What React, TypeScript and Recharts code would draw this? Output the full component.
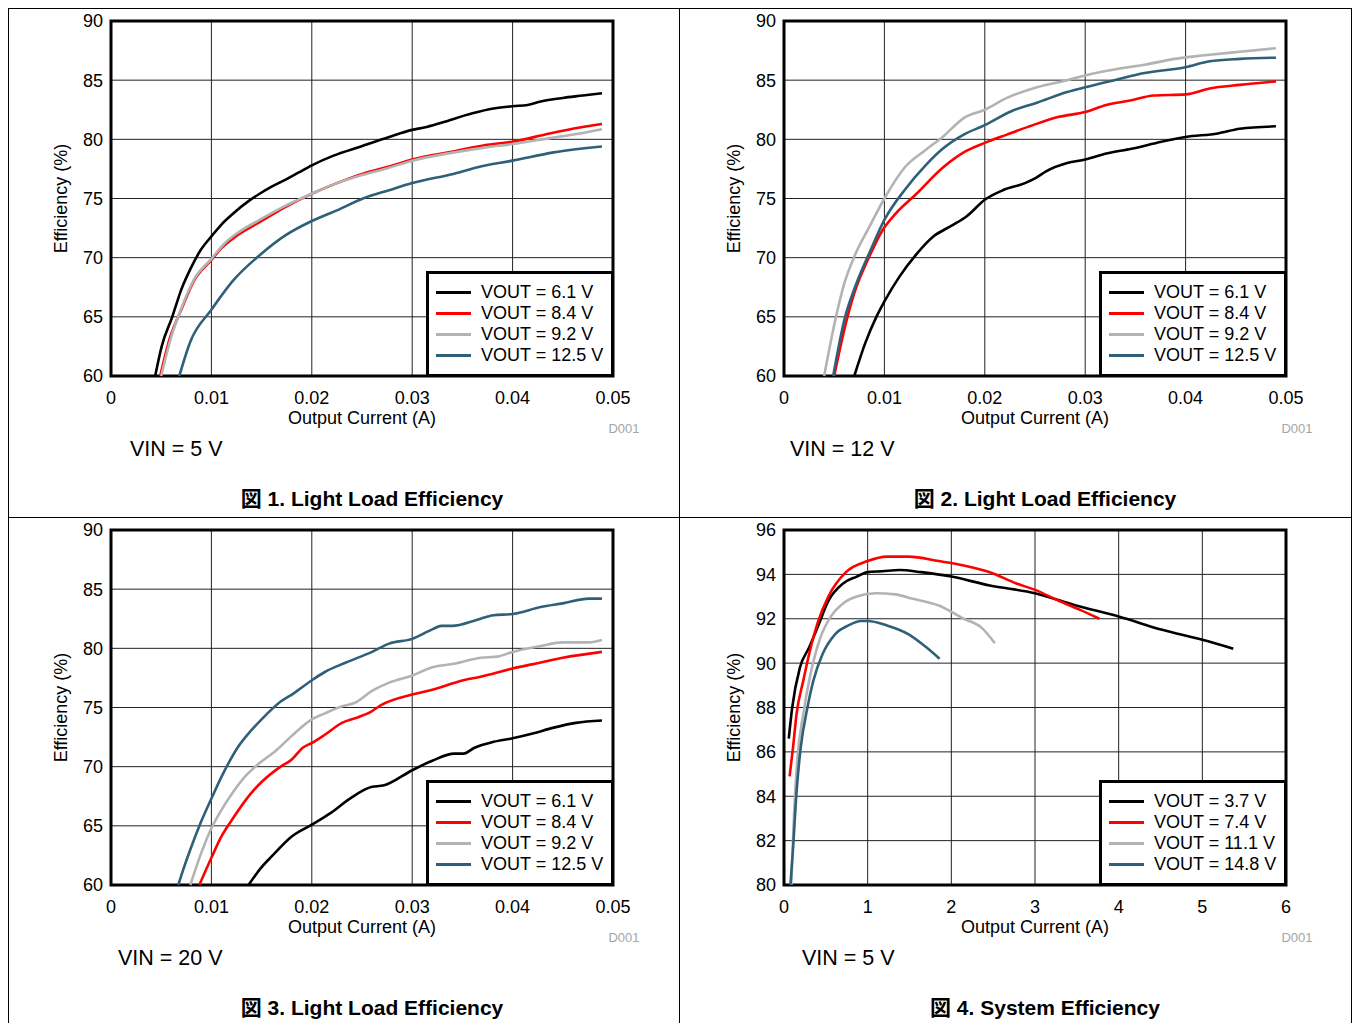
import React from 'react';
import { LineChart, Line, XAxis, YAxis, CartesianGrid, ReferenceArea, Legend } from 'recharts';

// ---------- tick labels ----------
const lightTicksX = [0, 0.01, 0.02, 0.03, 0.04, 0.05];
const lightTicksY = [60, 65, 70, 75, 80, 85, 90];
const sysTicksX = [0, 1, 2, 3, 4, 5, 6];
const sysTicksY = [80, 82, 84, 86, 88, 90, 92, 94, 96];

const lightLabels = ['VOUT = 6.1 V', 'VOUT = 8.4 V', 'VOUT = 9.2 V', 'VOUT = 12.5 V'];
const sysLabels = ['VOUT = 3.7 V', 'VOUT = 7.4 V', 'VOUT = 11.1 V', 'VOUT = 14.8 V'];
const seriesColors = ['#000000', '#ff0000', '#b3b3b3', '#2e6079'];

// ---------- Figure 1: VIN = 5 V (current A, efficiency %) ----------
const f1_v61 = [[0.0044,60],[0.00505,62.5],[0.0061,65],[0.007,67.3],[0.008,69.2],[0.0089,70.6],[0.01,71.8],[0.011,72.8],[0.012,73.6],[0.0139,74.9],[0.0148,75.4],[0.016,76],[0.0174,76.6],[0.0187,77.2],[0.02,77.8],[0.0221,78.6],[0.0249,79.4],[0.0277,80.2],[0.03,80.8],[0.0312,81.0],[0.0329,81.4],[0.036,82.2],[0.0381,82.6],[0.04,82.8],[0.0415,82.9],[0.0428,83.2],[0.045,83.5],[0.047,83.7],[0.0489,83.9]];
const f1_v84 = [[0.0049,60],[0.0059,63.3],[0.007,65.6],[0.0083,68.1],[0.01,69.8],[0.011,70.8],[0.0126,71.9],[0.0148,73],[0.0174,74.3],[0.02,75.4],[0.0225,76.3],[0.0251,77.1],[0.0277,77.7],[0.03,78.3],[0.0342,79],[0.0372,79.5],[0.04,79.8],[0.0437,80.5],[0.0467,81],[0.0489,81.3]];
const f1_v92 = [[0.005,60],[0.006,63.3],[0.007,65.7],[0.0083,68.2],[0.01,69.9],[0.0113,71.2],[0.0128,72.2],[0.0148,73.2],[0.0174,74.4],[0.02,75.4],[0.0225,76.3],[0.0251,77],[0.0277,77.6],[0.03,78.2],[0.0342,78.9],[0.0372,79.3],[0.04,79.6],[0.0437,80.1],[0.0467,80.5],[0.0489,80.85]];
const f1_v125 = [[0.0068,60],[0.0079,62.9],[0.01,65.6],[0.0122,68.1],[0.0148,70.2],[0.0174,71.9],[0.02,73.1],[0.0225,74],[0.0251,75],[0.0277,75.7],[0.03,76.3],[0.0342,77.1],[0.0368,77.7],[0.04,78.2],[0.0441,78.9],[0.0489,79.4]];

// ---------- Figure 2: VIN = 12 V ----------
const f2_v61 = [[0.007,60],[0.0081,62.8],[0.0092,65],[0.01,66.3],[0.0115,68.4],[0.0132,70.3],[0.0149,71.8],[0.0167,72.7],[0.0182,73.5],[0.02,74.9],[0.0218,75.7],[0.024,76.3],[0.025,76.7],[0.0261,77.3],[0.0282,78],[0.03,78.3],[0.0321,78.8],[0.0346,79.2],[0.0376,79.8],[0.04,80.2],[0.0432,80.5],[0.0454,80.9],[0.049,81.1]];
const f2_v84 = [[0.005,60],[0.006,63.9],[0.007,67],[0.0085,70.1],[0.0098,72.3],[0.0111,73.7],[0.0132,75.4],[0.0158,77.6],[0.0179,78.9],[0.02,79.7],[0.0222,80.4],[0.0248,81.2],[0.0274,81.9],[0.03,82.3],[0.0321,82.9],[0.0346,83.3],[0.0368,83.7],[0.04,83.8],[0.0424,84.3],[0.0454,84.6],[0.049,84.9]];
const f2_v92 = [[0.004,60],[0.0051,64.7],[0.006,67.8],[0.007,70.1],[0.0085,72.6],[0.01,75],[0.012,77.6],[0.0141,79.1],[0.0158,80.2],[0.0179,81.8],[0.02,82.5],[0.0222,83.5],[0.0252,84.4],[0.0282,85],[0.03,85.4],[0.0329,85.9],[0.0359,86.3],[0.0389,86.8],[0.0419,87.1],[0.0454,87.4],[0.049,87.7]];
const f2_v125 = [[0.0049,60],[0.006,64.7],[0.0072,67.8],[0.0085,70.4],[0.01,73.2],[0.012,75.7],[0.0141,77.8],[0.0158,79.2],[0.0179,80.4],[0.02,81.2],[0.0227,82.4],[0.0252,83.1],[0.0282,84],[0.03,84.4],[0.0329,85],[0.0359,85.6],[0.04,86.1],[0.0424,86.6],[0.0454,86.8],[0.049,86.9]];

// ---------- Figure 3: VIN = 20 V ----------
const f3_v61 = [[0.0137,60],[0.0148,61.3],[0.0161,62.5],[0.018,64.1],[0.02,65.1],[0.0219,66.1],[0.0238,67.3],[0.026,68.3],[0.0271,68.4],[0.03,69.7],[0.032,70.5],[0.0342,71.1],[0.0351,71.1],[0.0362,71.6],[0.0381,72.1],[0.04,72.4],[0.042,72.8],[0.0441,73.3],[0.0463,73.7],[0.0489,73.9]];
const f3_v84 = [[0.0088,60],[0.01,62.3],[0.011,64.1],[0.0122,65.7],[0.0139,67.7],[0.015,68.7],[0.0169,70],[0.018,70.6],[0.0191,71.6],[0.02,72],[0.0213,72.7],[0.023,73.7],[0.0247,74.2],[0.026,74.7],[0.0269,75.2],[0.03,76.1],[0.032,76.5],[0.0351,77.3],[0.0368,77.6],[0.04,78.3],[0.0428,78.8],[0.045,79.2],[0.0489,79.7]];
const f3_v92 = [[0.0079,60],[0.0089,62.5],[0.01,64.8],[0.0109,66.2],[0.0122,67.9],[0.0135,69.3],[0.0148,70.3],[0.0165,71.4],[0.018,72.6],[0.02,74],[0.0213,74.5],[0.023,75.1],[0.0243,75.4],[0.026,76.4],[0.0277,77.1],[0.03,77.7],[0.032,78.4],[0.0342,78.7],[0.0368,79.2],[0.0385,79.3],[0.04,79.7],[0.0428,80.2],[0.045,80.5],[0.0476,80.5],[0.0489,80.7]];
const f3_v125 = [[0.0067,60],[0.007,60.8],[0.0079,63],[0.0089,65.2],[0.01,67.3],[0.0111,69.3],[0.0126,71.6],[0.0139,73],[0.015,74],[0.0169,75.5],[0.0182,76.2],[0.02,77.3],[0.0213,78],[0.0234,78.8],[0.026,79.7],[0.0277,80.4],[0.03,80.8],[0.032,81.6],[0.0329,81.9],[0.034,81.9],[0.0364,82.4],[0.0381,82.8],[0.04,82.9],[0.0428,83.5],[0.045,83.8],[0.0476,84.2],[0.0489,84.2]];

// ---------- Figure 4: system efficiency, VIN = 5 V ----------
const f4_v37 = [[0.057,86.6],[0.098,88],[0.19,89.8],[0.3,90.7],[0.41,91.7],[0.53,92.8],[0.71,93.6],[0.87,93.9],[1.0,94.1],[1.17,94.14],[1.38,94.2],[1.64,94.1],[2.0,93.9],[2.46,93.5],[3.0,93.15],[3.49,92.6],[4.0,92.1],[4.52,91.5],[5.0,91.05],[5.37,90.65]];
const f4_v74 = [[0.067,84.9],[0.108,86.2],[0.15,87.7],[0.23,89.2],[0.3,90.4],[0.41,91.9],[0.53,93],[0.74,94.1],[1.0,94.6],[1.23,94.8],[1.49,94.8],[1.85,94.6],[2.15,94.4],[2.46,94.1],[2.77,93.6],[3.0,93.3],[3.29,92.8],[3.54,92.4],[3.77,92.0]];
const f4_v111 = [[0.087,80],[0.12,83.2],[0.16,85.7],[0.23,87.7],[0.3,89.2],[0.43,91.1],[0.56,92.1],[0.71,92.7],[0.87,93],[1.1,93.15],[1.33,93.1],[1.54,92.9],[1.85,92.6],[2.15,92.0],[2.36,91.6],[2.52,90.9]];
const f4_v148 = [[0.077,80],[0.108,81.65],[0.15,84.2],[0.2,86.2],[0.28,88],[0.35,89.2],[0.46,90.4],[0.61,91.3],[0.77,91.7],[0.92,91.9],[1.0,91.9],[1.23,91.7],[1.49,91.3],[1.69,90.75],[1.86,90.2]];

const FONT = '"Liberation Sans", Arial, "Noto Sans CJK JP", sans-serif';

type Pt = { i: number; e: number };
const toPts = (a: number[][]): Pt[] => a.map(([i, e]) => ({ i, e }));

// layout constants (chart geometry, not data)
const PW = 502;
const PH = 355;
const ML = 100;
const MT = 15;
const MR = 60;
const XH = 84;
const MB = 20;
const CW = ML + PW + MR;
const CH = MT + PH + XH + MB;
const LEG_W = 188;
const LEG_H = 106;

type PanelProps = {
  plotX: number;
  plotY: number;
  series: number[][][];
  labels: string[];
  ticksX: number[];
  ticksY: number[];
  vin: string;
  vinDx: number;
  title: string;
};

const LegendBox = ({ labels }: { labels: string[] }) => (
  <div
    style={{
      width: LEG_W,
      height: LEG_H,
      boxSizing: 'border-box',
      border: '3px solid #000',
      background: '#fff',
      paddingTop: 8,
      fontFamily: FONT,
    }}
  >
    {labels.map((l, k) => (
      <div key={l} style={{ height: 21, display: 'flex', alignItems: 'center' }}>
        <div style={{ marginLeft: 7, width: 35, height: 3, background: seriesColors[k] }} />
        <div style={{ marginLeft: 10, fontSize: 18, color: '#000', whiteSpace: 'nowrap', lineHeight: '21px' }}>{l}</div>
      </div>
    ))}
  </div>
);

const Panel = (p: PanelProps) => {
  const x0 = p.ticksX[0];
  const x1 = p.ticksX[p.ticksX.length - 1];
  const y0 = p.ticksY[0];
  const y1 = p.ticksY[p.ticksY.length - 1];
  const left = p.plotX - 8;
  const top = p.plotY - 8;
  return (
    <>
      <div style={{ position: 'absolute', left: left - ML, top: top - MT }}>
        <LineChart width={CW} height={CH} margin={{ top: MT, right: MR, bottom: MB, left: 0 }}>
          <CartesianGrid stroke="#222" strokeWidth={1} />
          <XAxis
            type="number"
            dataKey="i"
            domain={[x0, x1]}
            ticks={p.ticksX}
            interval={0}
            height={XH}
            tickLine={false}
            axisLine={false}
            tickMargin={9}
            tick={{ fill: '#000', fontSize: 18, fontFamily: FONT }}
            label={{ value: 'Output Current (A)', position: 'center', fill: '#000', fontSize: 18, fontFamily: FONT }}
          />
          <YAxis
            type="number"
            dataKey="e"
            domain={[y0, y1]}
            ticks={p.ticksY}
            interval={0}
            width={ML}
            tickLine={false}
            axisLine={false}
            tick={{ fill: '#000', fontSize: 18, fontFamily: FONT }}
            label={{ value: 'Efficiency (%)', position: 'center', angle: -90, fill: '#000', fontSize: 18, fontFamily: FONT }}
          />
          {p.series.map((s, k) => (
            <Line
              key={p.labels[k]}
              data={toPts(s)}
              dataKey="e"
              type="monotone"
              stroke={seriesColors[k]}
              strokeWidth={2.6}
              dot={false}
              activeDot={false}
              isAnimationActive={false}
            />
          ))}
          <ReferenceArea x1={x0} x2={x1} y1={y0} y2={y1} fill="none" stroke="#000" strokeWidth={3} ifOverflow="visible" />
          <Legend
            layout="vertical"
            align="center"
            verticalAlign="middle"
            wrapperStyle={{ left: ML + PW - LEG_W + 1, top: MT + PH - LEG_H + 1, width: LEG_W, height: LEG_H }}
            content={() => <LegendBox labels={p.labels} />}
          />
        </LineChart>
      </div>
      <div
        style={{
          position: 'absolute',
          left: left + PW + 11,
          top: top + 407,
          transform: 'translate(-50%, -50%)',
          fontSize: 13,
          color: '#a6a6a6',
          fontFamily: FONT,
          lineHeight: 1,
          whiteSpace: 'nowrap',
        }}
      >
        D001
      </div>
      <div
        style={{
          position: 'absolute',
          left: left + p.vinDx,
          top: top + 429,
          transform: 'translateY(-50%)',
          fontSize: 21.5,
          color: '#000',
          fontFamily: FONT,
          lineHeight: 1,
          whiteSpace: 'nowrap',
        }}
      >
        {p.vin}
      </div>
      <div
        style={{
          position: 'absolute',
          left: left + 261,
          top: top + 477,
          transform: 'translate(-50%, -50%)',
          fontSize: 21,
          fontWeight: 'bold',
          color: '#000',
          fontFamily: FONT,
          lineHeight: 1,
          whiteSpace: 'nowrap',
        }}
      >
        {p.title}
      </div>
    </>
  );
};

export default function App() {
  const line = (s: React.CSSProperties) => <div style={{ position: 'absolute', background: '#000', ...s }} />;
  return (
    <div style={{ width: 1354, height: 1023, padding: 8, boxSizing: 'border-box', overflow: 'hidden', background: '#fff' }}>
      <style>{'html{overflow:hidden;}body{margin:0;}'}</style>
      <div style={{ position: 'relative', width: 1338, height: 1007, fontFamily: FONT }}>
        {line({ left: 0, top: 0, width: 1344, height: 1 })}
        {line({ left: 0, top: 0, width: 1, height: 1015 })}
        {line({ left: 1343, top: 0, width: 1, height: 1015 })}
        {line({ left: 671, top: 0, width: 1, height: 1015 })}
        {line({ left: 0, top: 509, width: 1344, height: 1 })}
        <Panel
          plotX={111}
          plotY={21}
          series={[f1_v61, f1_v84, f1_v92, f1_v125]}
          labels={lightLabels}
          ticksX={lightTicksX}
          ticksY={lightTicksY}
          vin="VIN = 5 V"
          vinDx={19}
          title="図 1. Light Load Efficiency"
        />
        <Panel
          plotX={784}
          plotY={21}
          series={[f2_v61, f2_v84, f2_v92, f2_v125]}
          labels={lightLabels}
          ticksX={lightTicksX}
          ticksY={lightTicksY}
          vin="VIN = 12 V"
          vinDx={6}
          title="図 2. Light Load Efficiency"
        />
        <Panel
          plotX={111}
          plotY={530}
          series={[f3_v61, f3_v84, f3_v92, f3_v125]}
          labels={lightLabels}
          ticksX={lightTicksX}
          ticksY={lightTicksY}
          vin="VIN = 20 V"
          vinDx={7}
          title="図 3. Light Load Efficiency"
        />
        <Panel
          plotX={784}
          plotY={530}
          series={[f4_v37, f4_v74, f4_v111, f4_v148]}
          labels={sysLabels}
          ticksX={sysTicksX}
          ticksY={sysTicksY}
          vin="VIN = 5 V"
          vinDx={18}
          title="図 4. System Efficiency"
        />
      </div>
    </div>
  );
}
